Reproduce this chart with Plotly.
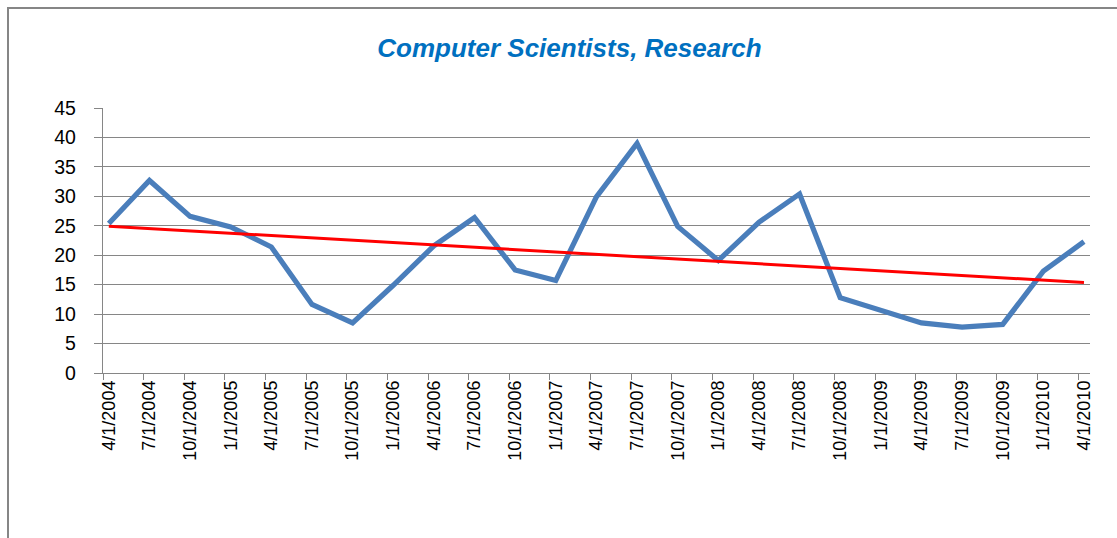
import numpy as np
import plotly.graph_objects as go

# ---- data ----
dates = ["4/1/2004", "7/1/2004", "10/1/2004", "1/1/2005", "4/1/2005", "7/1/2005",
         "10/1/2005", "1/1/2006", "4/1/2006", "7/1/2006", "10/1/2006", "1/1/2007",
         "4/1/2007", "7/1/2007", "10/1/2007", "1/1/2008", "4/1/2008", "7/1/2008",
         "10/1/2008", "1/1/2009", "4/1/2009", "7/1/2009", "10/1/2009", "1/1/2010",
         "4/1/2010"]
values = [25.4, 32.7, 26.6, 24.8, 21.4, 11.65, 8.5, 14.9, 21.6, 26.4, 17.5, 15.7,
          29.9, 39.0, 24.9, 19.1, 25.6, 30.4, 12.8, 10.7, 8.5, 7.8, 8.25, 17.3, 22.3]
y_ticks = [0, 5, 10, 15, 20, 25, 30, 35, 40, 45]
title_text = "Computer Scientists, Research"

# ---- layout geometry ----
W, H = 1117, 538
L, R, T, B = 103, 27, 108, 165
pw, ph = W - L - R, H - T - B
idx = np.arange(len(dates))
x_lo, x_hi = -0.143, len(dates) - 1 + 0.148
tick_off = -0.143

# linear trendline (least squares fit of the series)
slope, intercept = np.polyfit(idx, values, 1)
trend = slope * idx + intercept

GRID = "#868686"
fig = go.Figure()
fig.add_trace(go.Scatter(x=idx, y=values, mode="lines",
                         line=dict(color="#4A7EBB", width=5.2, shape="linear"),
                         showlegend=False, hoverinfo="skip"))
fig.add_trace(go.Scatter(x=idx, y=trend, mode="lines", xaxis="x2",
                         line=dict(color="#FF0000", width=3),
                         showlegend=False, hoverinfo="skip"))

def px_to_paper_x(p):
    return (p - L) / pw

def px_to_paper_y(p):
    return (H - B - p) / ph

fig.update_layout(
    width=W, height=H,
    margin=dict(l=L, r=R, t=T, b=B, pad=0),
    paper_bgcolor="white", plot_bgcolor="white",
    title=dict(text=title_text, x=569.5 / W, xref="container", xanchor="center",
               y=1 - 47.5 / H, yref="container", yanchor="middle",
               font=dict(family="Liberation Sans", size=26, color="#0070C0",
                         weight="bold", style="italic")),
    xaxis=dict(range=[x_lo, x_hi], tickmode="array", tickvals=idx, ticktext=dates,
               tickangle=-90, ticks="", showgrid=False, zeroline=False,
               showline=False, ticklabelstandoff=3,
               tickfont=dict(family="Liberation Sans", size=18, color="black")),
    xaxis2=dict(range=[x_lo, x_hi], overlaying="x", anchor="y", side="bottom",
                tickmode="array", tickvals=idx + tick_off, showticklabels=False,
                ticks="outside", ticklen=6, tickwidth=1.4, tickcolor=GRID,
                showline=True, linecolor=GRID, linewidth=1.4,
                showgrid=False, zeroline=False),
    yaxis=dict(range=[0, 45], tickmode="array", tickvals=y_ticks,
               ticks="outside", ticklen=8, tickwidth=1.4, tickcolor=GRID,
               showline=True, linecolor=GRID, linewidth=1.4,
               showgrid=True, gridcolor=GRID, gridwidth=1.4, zeroline=False,
               ticklabelstandoff=14,
               tickfont=dict(family="Liberation Sans", size=19.5, color="black")),
    shapes=[dict(type="rect", xref="paper", yref="paper",
                 x0=px_to_paper_x(8), x1=px_to_paper_x(1130),
                 y0=px_to_paper_y(550), y1=px_to_paper_y(8),
                 line=dict(color="#868686", width=2), fillcolor="rgba(0,0,0,0)",
                 layer="below")],
)

fig.write_html("out.html", config={"displayModeBar": False},
               post_script="document.body.style.margin='0';document.body.style.padding='0';")
